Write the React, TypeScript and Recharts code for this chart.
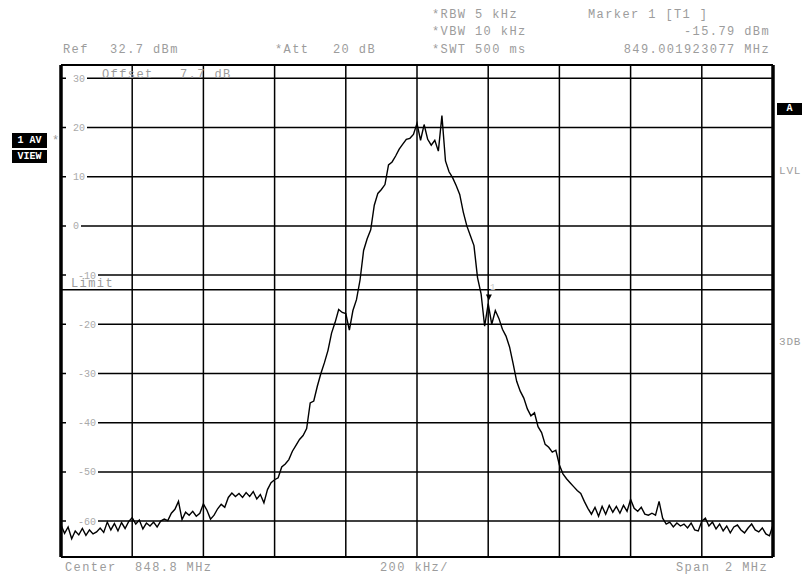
import { LineChart, Line, XAxis, YAxis, ReferenceLine, ReferenceDot } from "recharts";

// sweep setup read from the analyzer annotations
const CENTER_MHZ = 848.8;
const SPAN_MHZ = 2;
const SWEEP_STEP_MHZ = 0.01;
const REF_LEVEL_DBM = 32.7;
const RANGE_DB = 100;
const LIMIT_DBM = -13;

const levelTicks = [30, 20, 10, 0, -10, -20, -30, -40, -50, -60];
const freqGrid = [848.0, 848.2, 848.4, 848.6, 848.8, 849.0, 849.2, 849.4, 849.6];

// trace level (dBm), one value per sweep step
const traceDbm = [
  -60.8, -62.5, -61.2, -63.6, -62.0, -62.8, -61.5, -62.9, -61.8, -62.6, -62.2,
  -61.4, -62.3, -60.2, -61.8, -60.5, -62.0, -60.3, -61.5, -60.1, -59.3,
  -60.6, -59.8, -61.6, -60.4, -61.0, -60.2, -61.2, -60.0, -59.6, -59.9,
  -58.4, -57.6, -56.0, -59.7, -58.2, -58.8, -58.0, -59.0, -58.4, -56.5,
  -57.8, -59.6, -58.8, -57.5, -56.6, -57.2, -55.2, -54.3, -55.0, -54.4,
  -55.2, -54.2, -55.0, -54.0, -55.5, -54.6, -56.3, -53.6, -52.2, -51.6,
  -51.2, -49.0, -48.4, -47.5, -45.8, -44.6, -43.4, -42.6, -41.2, -36.0,
  -35.6, -32.6, -30.0, -27.8, -25.3, -21.8, -19.6, -17.0, -17.6, -17.8,
  -21.2, -17.2, -15.0, -11.0, -5.0, -2.6, -0.8, 4.2, 6.6, 7.4,
  8.4, 12.4, 13.0, 14.2, 15.6, 16.6, 17.6, 17.8, 18.6, 20.8,
  17.4, 20.6, 17.6, 16.4, 17.4, 15.2, 22.4, 13.2, 11.0, 9.8,
  8.2, 6.4, 2.8, 0.0, -2.0, -4.0, -10.5, -13.8, -20.4, -15.8,
  -20.0, -17.2, -18.8, -21.0, -22.4, -24.6, -28.0, -31.6, -33.6, -35.0,
  -37.2, -38.6, -38.0, -40.8, -42.0, -44.4, -45.0, -46.0, -45.6, -48.6,
  -50.4, -51.4, -52.2, -53.0, -53.8, -54.4, -56.0, -57.4, -58.6, -57.2,
  -59.0, -57.0, -58.6, -56.8, -58.2, -57.0, -58.4, -56.8, -58.0, -55.6,
  -57.4, -58.0, -57.2, -58.6, -58.8, -58.4, -58.8, -56.0, -59.4, -60.6,
  -60.2, -61.2, -60.4, -61.0, -60.6, -61.4, -60.4, -61.8, -62.0, -60.0,
  -59.4, -61.0, -60.2, -61.6, -60.6, -62.0, -61.0, -62.4, -61.2, -60.8,
  -61.8, -62.4, -61.4, -60.6, -61.8, -62.2, -61.4, -62.6, -63.0, -60.8,
];

const marker = { freq: 849.001923077, level: -15.79 };

const startMHz = CENTER_MHZ - SPAN_MHZ / 2;
const stopMHz = CENTER_MHZ + SPAN_MHZ / 2;
const bottomDbm = REF_LEVEL_DBM - RANGE_DB;

const data = traceDbm.map((level, i) => ({
  freq: Number((startMHz + i * SWEEP_STEP_MHZ).toFixed(3)),
  level,
}));

const GRAY = "#9c9c9c";
const MONO = "'Liberation Mono', 'DejaVu Sans Mono', monospace";

function LevelLabel(props: any) {
  const vb = props.viewBox || {};
  const v = props.value as number;
  const x0 = vb.x ?? 61;
  const y = vb.y ?? 0;
  const s = String(v);
  const tx = x0 + (v < 0 ? 17 : 12);
  const w = s.length * 6;
  return (
    <g>
      <rect x={x0 + 5} y={y - 5} width={tx - x0 - 5 + w + 2} height={10} fill="#fff" />
      <text x={tx} y={y + 3.5} fontFamily={MONO} fontSize={10} fill="#aaaaaa">
        {s}
      </text>
    </g>
  );
}

function Txt({ x, y, text, right, tight }: { x: number; y: number; text: string; right?: boolean; tight?: boolean }) {
  return (
    <div
      style={{
        position: "absolute",
        top: y - 7,
        ...(right ? { right: 803 - x } : { left: x }),
        fontFamily: MONO,
        fontSize: tight ? 11 : 12,
        lineHeight: "14px",
        letterSpacing: tight ? 0.8 : 1.4,
        color: GRAY,
        whiteSpace: "pre",
      }}
    >
      {text}
    </div>
  );
}

function Box({ x, y, w, h, text }: { x: number; y: number; w: number; h: number; text: string }) {
  return (
    <div
      style={{
        position: "absolute",
        left: x,
        top: y,
        width: w,
        height: h,
        background: "#000",
        color: "#fff",
        fontFamily: MONO,
        fontWeight: "bold",
        fontSize: 10,
        lineHeight: `${h}px`,
        textAlign: "center",
        whiteSpace: "pre",
      }}
    >
      {text}
    </div>
  );
}

export default function App() {
  return (
    <div style={{ position: "absolute", left: 0, top: 0, width: 803, height: 578, background: "#fff", overflow: "hidden" }}>
      <LineChart width={803} height={578} data={data} margin={{ top: 65, right: 30, bottom: 21, left: 61 }}>
        <XAxis dataKey="freq" type="number" domain={[startMHz, stopMHz]} hide />
        <YAxis type="number" domain={[bottomDbm, REF_LEVEL_DBM]} hide />
        {freqGrid.map((f) => (
          <ReferenceLine key={`fx${f}`} x={f} stroke="#000" strokeWidth={1.5} />
        ))}
        {levelTicks.map((v) => (
          <ReferenceLine
            key={`ly${v}`}
            y={v}
            stroke="#000"
            strokeWidth={1.5}
            label={(p: any) => <LevelLabel {...p} value={v} />}
          />
        ))}
        <ReferenceLine y={LIMIT_DBM} stroke="#000" strokeWidth={1.5} />
        <ReferenceLine x={startMHz} stroke="#000" strokeWidth={3.5} />
        <ReferenceLine x={stopMHz} stroke="#000" strokeWidth={3.5} />
        <ReferenceLine y={REF_LEVEL_DBM} stroke="#000" strokeWidth={2} />
        <ReferenceLine y={bottomDbm} stroke="#000" strokeWidth={2} />
        <Line
          dataKey="level"
          type="linear"
          stroke="#000"
          strokeWidth={1.4}
          dot={false}
          isAnimationActive={false}
        />
        <ReferenceDot
          x={marker.freq}
          y={marker.level}
          shape={(p: any) => (
            <g>
              <polygon
                points={`${p.cx - 3},${p.cy - 9} ${p.cx + 3},${p.cy - 9} ${p.cx},${p.cy - 3}`}
                fill="#000"
              />
              <text x={p.cx + 1} y={p.cy - 14} fontFamily={MONO} fontSize={9} fill="#c8c8c8">
                1
              </text>
            </g>
          )}
        />
      </LineChart>

      <Txt x={432} y={15} text="*RBW 5 kHz" />
      <Txt x={432} y={32} text="*VBW 10 kHz" />
      <Txt x={432} y={50} text="*SWT 500 ms" />
      <Txt x={588} y={15} text="Marker 1 [T1 ]" />
      <Txt x={770} y={32} text="-15.79 dBm" right />
      <Txt x={770} y={50} text="849.001923077 MHz" right />
      <Txt x={63} y={50} text="Ref" />
      <Txt x={110} y={50} text="32.7 dBm" />
      <Txt x={275} y={50} text="*Att" />
      <Txt x={333} y={50} text="20 dB" />
      <Txt x={102} y={75} text="Offset" />
      <Txt x={180} y={75} text="7.7 dB" />
      <Txt x={71} y={284} text="Limit" />
      <Txt x={779} y={171} text="LVL" tight />
      <Txt x={779} y={342} text="3DB" tight />
      <Txt x={65} y={568} text="Center" />
      <Txt x={135} y={568} text="848.8 MHz" />
      <Txt x={380} y={568} text="200 kHz/" />
      <Txt x={676} y={568} text="Span" />
      <Txt x={725} y={568} text="2 MHz" />

      <Box x={12} y={133} w={35} h={15} text="1 AV" />
      <Box x={12} y={150} w={35} h={13} text="VIEW" />
      <Txt x={52} y={141} text="*" />
      <Box x={777} y={103} w={25} h={12} text="A" />
    </div>
  );
}
